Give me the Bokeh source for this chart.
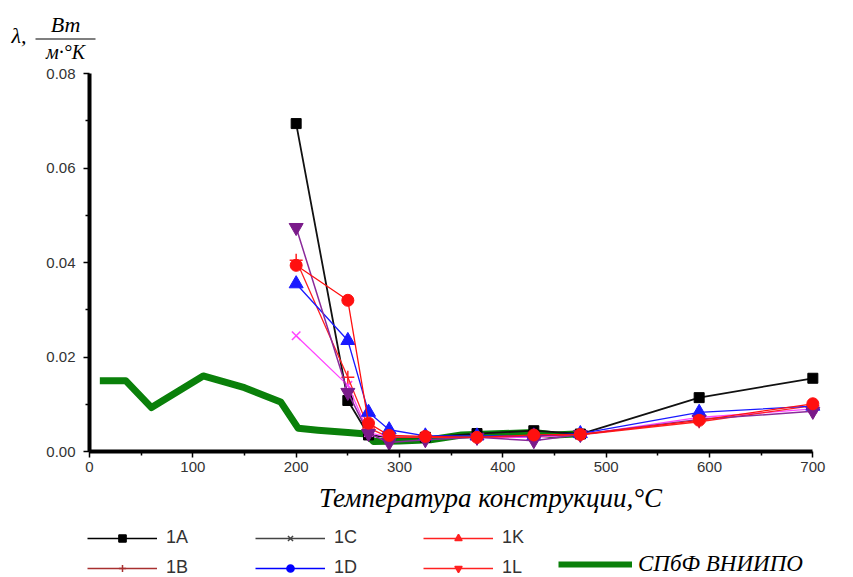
from bokeh.plotting import figure
from bokeh.layouts import column
from bokeh.models import (FixedTicker, NumeralTickFormatter, Label, Legend, LegendItem, Range1d)
from bokeh.embed import file_html
from bokeh.resources import INLINE

# ---- data ----
temps = [200, 250, 270, 290, 325, 375, 430, 475, 590, 700]
s_square = [0.0694, 0.0108, 0.0035, 0.0030, 0.0030, 0.0038, 0.0044, 0.0037, 0.0114, 0.0155]
s_plus = [0.0405, 0.0157, 0.0050, 0.0030, 0.0030, 0.0030, 0.0033, 0.0035, 0.0063, 0.0097]
s_x = [0.0245, 0.0140, 0.0040, 0.0030, 0.0030, 0.0030, 0.0030, 0.0035, 0.0072, 0.0090]
s_tri = [0.0355, 0.0235, 0.0083, 0.0046, 0.0033, 0.0033, 0.0033, 0.0038, 0.0083, 0.0096]
s_inv = [0.0474, 0.0125, 0.0038, 0.0019, 0.0025, 0.0030, 0.0023, 0.0036, 0.0068, 0.0085]
s_circle = [0.0394, 0.0320, 0.0060, 0.0034, 0.0032, 0.0030, 0.0035, 0.0036, 0.0066, 0.0101]

green_x = [10, 35, 60, 110, 150, 185, 202, 221, 250, 268, 275, 300, 330, 360, 400, 430, 450, 470]
green_y = [0.0150, 0.0150, 0.0093, 0.0160, 0.0135, 0.0105, 0.0049, 0.0045, 0.0040, 0.0037,
           0.0021, 0.0022, 0.0025, 0.0035, 0.0038, 0.0040, 0.0035, 0.0037]

x_ticks = [0, 100, 200, 300, 400, 500, 600, 700]
x_minor = [50, 150, 250, 350, 450, 550, 650]
y_ticks = [0.0, 0.02, 0.04, 0.06, 0.08]
y_minor = [0.01, 0.03, 0.05, 0.07]

legend_labels = ["1A", "1B", "1C", "1D", "1K", "1L"]
green_label = "СПбФ ВНИИПО"
x_title = "Температура конструкции,°C"

SERIF = "Liberation Serif"
SANS = "Liberation Sans"
NAN = float("nan")

# ---------------- top strip: y-axis title (fraction) ----------------
top = figure(width=853, height=65, x_range=Range1d(0, 853), y_range=Range1d(65, 0),
             x_axis_type=None, y_axis_type=None, output_backend="svg",
             toolbar_location=None, min_border=0, outline_line_color=None,
             background_fill_color="white", border_fill_color="white", frame_align=False)
top.add_layout(Label(x=11, y=35, text="λ,", text_align="left", text_baseline="middle",
                     text_font=SERIF, text_font_style="italic", text_font_size="22px",
                     text_color="black"))
top.add_layout(Label(x=65, y=24, text="Вт", text_align="center", text_baseline="middle",
                     text_font=SERIF, text_font_style="italic", text_font_size="22px",
                     text_color="black"))
top.add_layout(Label(x=65, y=51, text="м·°К", text_align="center", text_baseline="middle",
                     text_font=SERIF, text_font_style="italic", text_font_size="20px",
                     text_color="black"))
top.segment(x0=[35], y0=[38.5], x1=[95], y1=[38.5], line_color="black", line_width=1.2)

# ---------------- main plot ----------------
p = figure(width=853, height=416, x_range=Range1d(0, 720), y_range=Range1d(0, 0.08),
           output_backend="svg", toolbar_location=None,
           min_border_left=89, min_border_right=20, min_border_top=8, min_border_bottom=30,
           outline_line_color=None, background_fill_color="white", border_fill_color="white",
           frame_align=False)
p.xgrid.visible = False
p.ygrid.visible = False

for ax in (p.xaxis[0], p.yaxis[0]):
    ax.axis_line_width = 4
    ax.axis_line_color = "black"
    ax.major_tick_line_color = "black"
    ax.minor_tick_line_color = "black"
    ax.major_tick_line_width = 1.5
    ax.minor_tick_line_width = 1.5
    ax.major_tick_in = 0
    ax.major_tick_out = 6
    ax.minor_tick_in = 0
    ax.minor_tick_out = 4
    ax.major_label_text_font = SANS
    ax.major_label_text_font_size = "15px"
    ax.major_label_text_color = "#333333"

p.xaxis[0].ticker = FixedTicker(ticks=x_ticks, minor_ticks=x_minor)
p.xaxis[0].bounds = (0, 700)
p.xaxis[0].major_label_standoff = 4
p.yaxis[0].ticker = FixedTicker(ticks=y_ticks, minor_ticks=y_minor)
p.yaxis[0].formatter = NumeralTickFormatter(format="0.00")
p.yaxis[0].major_label_standoff = 8

# green reference curve
p.line(green_x, green_y, line_color="#0a800a", line_width=7, line_join="round")

# experimental series
p.line(temps, s_square, line_color="#111111", line_width=1.8)
p.scatter(temps, s_square, marker="square", size=10, color="black")

p.line(temps, s_x, line_color="#ff44ff", line_width=1.3)
p.scatter(temps, s_x, marker="x", size=12, line_color="#ff44ff", line_width=1.5)

p.line(temps, s_plus, line_color="#ff2020", line_width=1.3)
p.scatter(temps, s_plus, marker="cross", size=13, line_color="#ff2020", line_width=1.5)

p.line(temps, s_tri, line_color="#1a1aff", line_width=1.3)
p.scatter(temps, s_tri, marker="triangle", size=14, color="#1a1aff")

p.line(temps, s_inv, line_color="#8a2a9a", line_width=1.5)
p.scatter(temps, s_inv, marker="inverted_triangle", size=14, color="#7a1a8a")

p.line(temps, s_circle, line_color="#ff1010", line_width=1.3)
p.scatter(temps, s_circle, marker="circle", size=12, color="#ff1010")

# ---------------- bottom strip: x title and legend ----------------
bot = figure(width=853, height=96, x_range=Range1d(0, 853), y_range=Range1d(577, 481),
             x_axis_type=None, y_axis_type=None, output_backend="svg",
             toolbar_location=None, min_border=0, outline_line_color=None,
             background_fill_color="white", border_fill_color="white", frame_align=False)
bot.add_layout(Label(x=490, y=497, text=x_title, text_align="center", text_baseline="middle",
                     text_font=SERIF, text_font_style="italic", text_font_size="27px",
                     text_color="black"))

leg_styles = [("black", "square"), ("#a83030", "cross"), ("#444444", "x"),
              ("#0000ff", "circle"), ("#ff2020", "triangle"), ("#ff2020", "inverted_triangle")]
items = []
for lab, (col, mk) in zip(legend_labels, leg_styles):
    lr = bot.line([NAN], [NAN], line_color=col, line_width=1.5)
    sr = bot.scatter([NAN], [NAN], marker=mk, size=9, color=col, line_width=1.5)
    items.append(LegendItem(label=lab, renderers=[lr, sr]))

leg1 = Legend(items=items, location=(87, -1), orientation="vertical", nrows=2,
              glyph_width=70, glyph_height=18, label_height=18, label_width=80,
              spacing=9, label_standoff=9, padding=0, margin=0,
              border_line_alpha=0, background_fill_alpha=0,
              label_text_font=SANS, label_text_font_size="18px",
              label_text_color="#333333")
bot.add_layout(leg1, "center")

gr = bot.line([NAN], [NAN], line_color="#0a800a", line_width=6)
leg2 = Legend(items=[LegendItem(label=green_label, renderers=[gr])], location=(558, 0),
              glyph_width=74, glyph_height=20, label_standoff=6, padding=0, margin=0,
              border_line_alpha=0, background_fill_alpha=0,
              label_text_font=SERIF, label_text_font_style="italic",
              label_text_font_size="23px", label_text_color="black")
bot.add_layout(leg2, "center")

layout = column(top, p, bot, spacing=0)
open("out.html", "w").write(file_html(layout, INLINE))
